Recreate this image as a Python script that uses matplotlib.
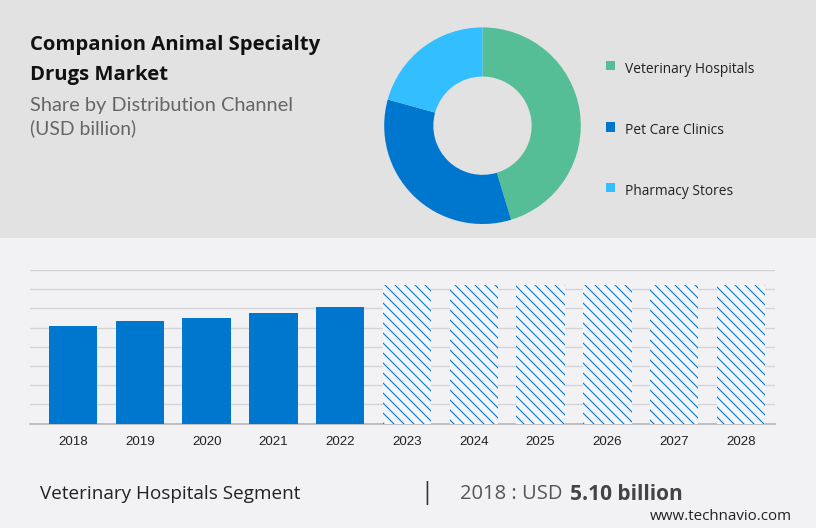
"""Companion animal specialty drugs market: share donut on top, bars below."""
import matplotlib
matplotlib.use("Agg")
import matplotlib.pyplot as plt
from matplotlib.patches import Rectangle

W, H = 816, 528

channels = ["Veterinary Hospitals", "Pet Care Clinics", "Pharmacy Stores"]
shares = [45.3, 34.0, 20.7]
channel_colors = ["#55be96", "#0077cf", "#33bfff"]

years = ["2018", "2019", "2020", "2021", "2022", "2023",
         "2024", "2025", "2026", "2027", "2028"]
history = [5.10, 5.34, 5.48, 5.76, 6.05]
forecast = [7.22, 7.22, 7.22, 7.22, 7.22, 7.22]


def fx(px):
    return px / W


def fy(py):
    return 1 - py / H


def label(px, py, s, **kw):
    fig.text(fx(px), fy(py), s, va="center", ha=kw.pop("ha", "left"), **kw)


plt.rcParams["hatch.linewidth"] = 0.65
fig = plt.figure(figsize=(W / 120, H / 120), dpi=120, facecolor="#f2f2f5")

# grey header band, behind the axes
fig.add_artist(Rectangle((0, fy(238)), 1, 238 / H, transform=fig.transFigure,
                         facecolor="#e2e2e2", edgecolor="none", zorder=-1))

# ---------------------------------------------------------------- header text
label(30, 45, "Companion Animal Specialty", family="Open Sans", weight="bold",
      fontsize=12.15, color="#111111")
label(30, 75, "Drugs Market", family="Open Sans", weight="bold",
      fontsize=12.15, color="#111111")
label(30, 105, "Share by Distribution Channel", family="Lato",
      fontsize=12, color="#666666")
label(30, 128, "(USD billion)", family="Lato",
      fontsize=11.6, color="#666666")

# ---------------------------------------------------------------------- donut
cx, cy, r = 482.5, 125.7, 98.3
ax_pie = fig.add_axes([fx(cx - r), fy(cy + r), 2 * r / W, 2 * r / H])
ax_pie.pie(shares, colors=channel_colors, startangle=90, counterclock=False,
           radius=1, wedgeprops={"width": 0.5, "linewidth": 0})
ax_pie.set_xlim(-1, 1)
ax_pie.set_ylim(-1, 1)

for name, color, py in zip(channels, channel_colors, [65.7, 127, 188]):
    fig.add_artist(Rectangle((fx(605.5), fy(py + 4.5)), 9 / W, 9 / H,
                             transform=fig.transFigure, facecolor=color,
                             edgecolor="none"))
    label(625, py + 3.5, name, family="Open Sans", fontsize=8.25, color="#222222")

# ----------------------------------------------------------------------- bars
ax = fig.add_axes([fx(30), fy(423.5), 745 / W, 153.5 / H])
ax.set_facecolor("none")
x = list(range(len(years)))
n_hist = len(history)
ax.bar(x[:n_hist], history, width=0.725, color="#0077cf", zorder=3)
ax.bar(x[n_hist:], forecast, width=0.725, facecolor="#f4f5f8",
       edgecolor="#0077cf", hatch="\\" * 4, linewidth=0, zorder=3)
ax.set_xlim(-0.646, 10.51)
ax.set_ylim(0, 8)
ax.set_yticks(range(9))
ax.tick_params(left=False, labelleft=False, bottom=False, pad=4)
ax.set_xticks(x, years, family="Liberation Sans", fontsize=8, color="#222222")
ax.grid(axis="y", color="#d3d3d8", linewidth=0.8, zorder=0)
ax.set_axisbelow(True)
for side in ["top", "left", "right"]:
    ax.spines[side].set_visible(False)
ax.spines["bottom"].set_color("#b5b5b8")
ax.spines["bottom"].set_linewidth(1.0)

# --------------------------------------------------------------------- footer
label(40, 494, "Veterinary Hospitals Segment", family="Open Sans",
      fontsize=11.3, color="#222222")
label(420, 493, "|", family="Open Sans", fontsize=14, color="#333333")
label(460, 494, "2018 : USD", family="Open Sans", fontsize=12.1, color="#555555")
label(570, 494, "5.10 billion", family="Open Sans", weight="bold",
      fontsize=12.5, color="#444444")
label(650, 517, "www.technavio.com", family="Open Sans", fontsize=9.05,
      color="#222222")

fig.savefig("out.png", dpi=120, facecolor=fig.get_facecolor())
